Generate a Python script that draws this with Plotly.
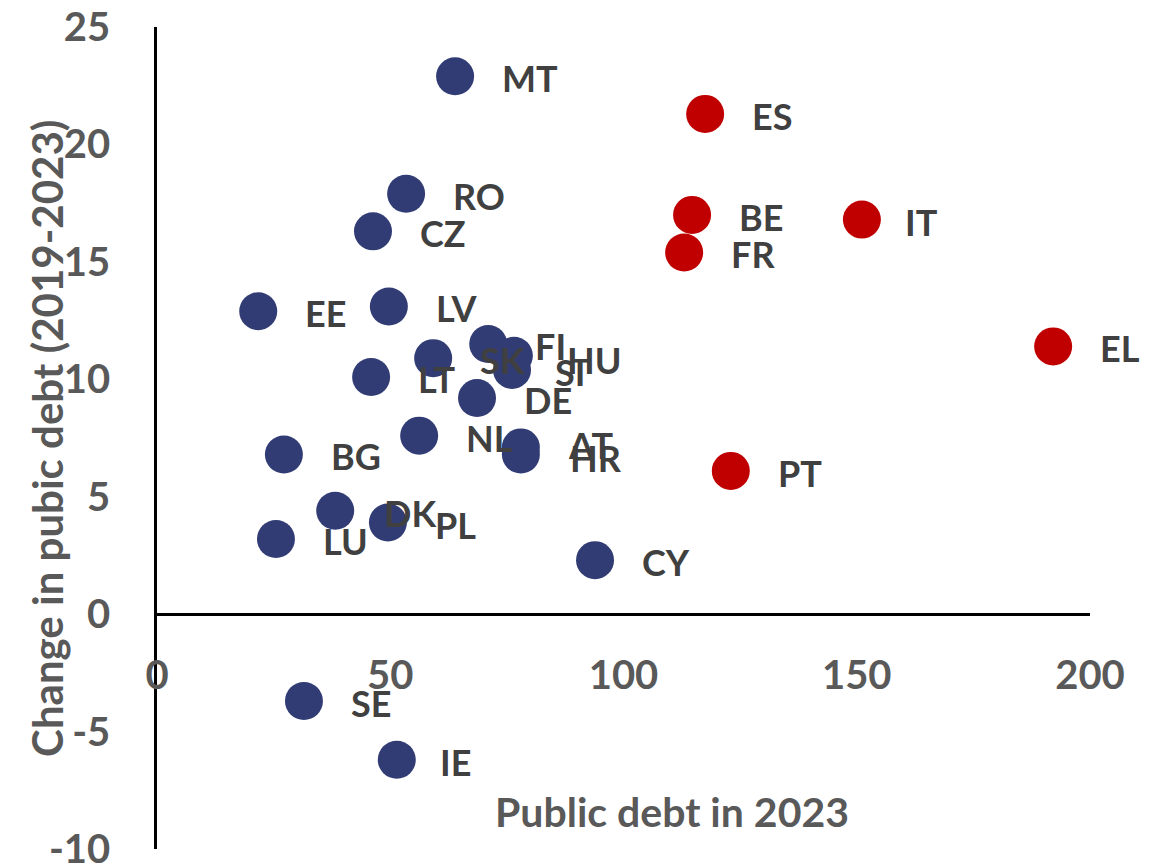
import plotly.graph_objects as go

countries = ["MT","ES","RO","CZ","BE","IT","FR","EE","LV","EL","FI","SK","HU","SI","LT",
             "DE","NL","AT","HR","BG","PT","DK","PL","LU","CY","SE","IE"]
debt_2023 = [63.9,117.5,53.4,46.3,114.7,151.1,113.0,21.7,49.7,192.1,71.0,59.2,76.5,76.1,45.9,
             68.6,56.2,78.0,78.0,27.2,123.0,38.2,49.5,25.5,93.9,31.5,51.4]
change_19_23 = [22.9,21.3,17.9,16.3,17.0,16.8,15.4,12.9,13.1,11.4,11.5,10.9,11.0,10.4,10.1,
                9.2,7.6,7.1,6.8,6.8,6.1,4.4,3.9,3.2,2.3,-3.7,-6.2]
red_group = {"ES","BE","IT","FR","EL","PT"}

x_ticks = [0, 50, 100, 150, 200]
y_ticks = [-10, -5, 0, 5, 10, 15, 20, 25]
y_ticktext = ["-10", "-5", "0", "5", "10", "15", "20", "25"]

# label pixel offsets (layout only)
label_shift = {"HU": (6, -2), "SI": (-4, 0), "AT": (0, 4), "HR": (2, -2),
               "DK": (2, 0), "IT": (-4, 0), "IE": (-4, 0)}

NAVY = "#323C74"
RED = "#C00000"
colors = [RED if c in red_group else NAVY for c in countries]
FONT = "Lato"

fig = go.Figure()
fig.add_trace(go.Scatter(
    x=debt_2023, y=change_19_23, mode="markers",
    marker=dict(size=38, color=colors, line=dict(width=0)),
    hoverinfo="text", text=countries, showlegend=False))

for c, xv, yv in zip(countries, debt_2023, change_19_23):
    dx, dy = label_shift.get(c, (0, 0))
    fig.add_annotation(x=xv, y=yv, text=c, showarrow=False, xanchor="left", yanchor="middle",
                       xshift=45 + dx, yshift=-2 + dy,
                       font=dict(family=FONT, size=36, color="#404040", weight="bold"))

fig.add_annotation(x=0.552, y=0.0, xref="paper", yref="paper", xanchor="center", yanchor="middle",
                   text="Public debt in 2023", showarrow=False, yshift=38,
                   font=dict(family=FONT, size=41, color="#595959", weight="bold"))

fig.add_annotation(x=-0.118, y=0.5, xref="paper", yref="paper", xanchor="center", yanchor="middle",
                   text="Change in pubic debt (2019-2023)", showarrow=False, textangle=-90,
                   font=dict(family=FONT, size=42, color="#595959", weight="bold"))

fig.update_layout(
    width=1163, height=865,
    margin=dict(l=157, r=73, t=27, b=16),
    paper_bgcolor="white", plot_bgcolor="white",
    xaxis=dict(range=[0, 200], tickvals=x_ticks, showgrid=False, zeroline=False,
               showline=False, anchor="free", position=0.245, ticks="", automargin=False,
               tickfont=dict(family=FONT, size=40, color="#595959", weight="bold")),
    yaxis=dict(range=[-10, 25], tickvals=y_ticks, ticktext=y_ticktext, showgrid=False,
               zeroline=True, zerolinecolor="black", zerolinewidth=2.5,
               showline=True, linecolor="black", linewidth=2.5, ticks="",
               ticklabelstandoff=36, automargin=False, ticklabeloverflow="allow",
               tickfont=dict(family=FONT, size=40, color="#595959", weight="bold")),
)

fig.write_html("out.html")
